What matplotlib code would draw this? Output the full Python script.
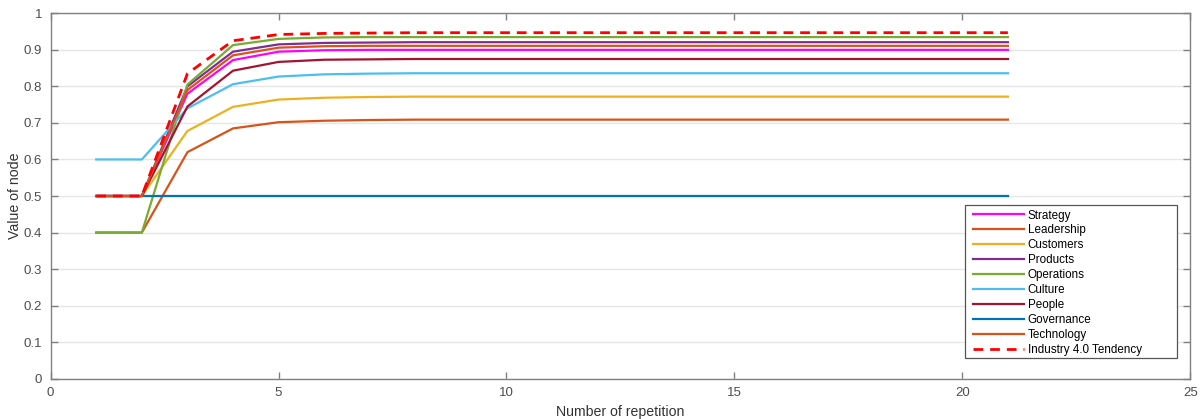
import matplotlib
matplotlib.use("Agg")
import matplotlib.pyplot as plt
from matplotlib.patches import Rectangle

x = list(range(1, 22))

strategy   = [0.5, 0.5, 0.780, 0.872, 0.895, 0.899, 0.900, 0.900, 0.900, 0.900, 0.900, 0.900, 0.900, 0.900, 0.900, 0.900, 0.900, 0.900, 0.900, 0.900, 0.900]
leadership = [0.4, 0.4, 0.620, 0.685, 0.702, 0.706, 0.708, 0.709, 0.709, 0.709, 0.709, 0.709, 0.709, 0.709, 0.709, 0.709, 0.709, 0.709, 0.709, 0.709, 0.709]
customers  = [0.5, 0.5, 0.678, 0.744, 0.764, 0.769, 0.771, 0.772, 0.772, 0.772, 0.772, 0.772, 0.772, 0.772, 0.772, 0.772, 0.772, 0.772, 0.772, 0.772, 0.772]
products   = [0.5, 0.5, 0.800, 0.895, 0.915, 0.919, 0.920, 0.921, 0.921, 0.921, 0.921, 0.921, 0.921, 0.921, 0.921, 0.921, 0.921, 0.921, 0.921, 0.921, 0.921]
operations = [0.4, 0.4, 0.805, 0.913, 0.930, 0.934, 0.935, 0.935, 0.935, 0.935, 0.935, 0.935, 0.935, 0.935, 0.935, 0.935, 0.935, 0.935, 0.935, 0.935, 0.935]
culture    = [0.6, 0.6, 0.740, 0.806, 0.827, 0.833, 0.835, 0.836, 0.836, 0.836, 0.836, 0.836, 0.836, 0.836, 0.836, 0.836, 0.836, 0.836, 0.836, 0.836, 0.836]
people     = [0.5, 0.5, 0.745, 0.843, 0.867, 0.873, 0.874, 0.875, 0.875, 0.875, 0.875, 0.875, 0.875, 0.875, 0.875, 0.875, 0.875, 0.875, 0.875, 0.875, 0.875]
governance = [0.5, 0.5, 0.500, 0.500, 0.500, 0.500, 0.500, 0.500, 0.500, 0.500, 0.500, 0.500, 0.500, 0.500, 0.500, 0.500, 0.500, 0.500, 0.500, 0.500, 0.500]
technology = [0.5, 0.5, 0.790, 0.885, 0.906, 0.910, 0.911, 0.911, 0.911, 0.911, 0.911, 0.911, 0.911, 0.911, 0.911, 0.911, 0.911, 0.911, 0.911, 0.911, 0.911]
industry   = [0.5, 0.5, 0.835, 0.925, 0.942, 0.945, 0.946, 0.947, 0.947, 0.947, 0.947, 0.947, 0.947, 0.947, 0.947, 0.947, 0.947, 0.947, 0.947, 0.947, 0.947]

xticks = [0, 5, 10, 15, 20, 25]
yticks = [0, 0.1, 0.2, 0.3, 0.4, 0.5, 0.6, 0.7, 0.8, 0.9, 1]
yticklabels = ["0", "0.1", "0.2", "0.3", "0.4", "0.5", "0.6", "0.7", "0.8", "0.9", "1"]

series = [
    ("Strategy", strategy, "#FF00FF", "-"),
    ("Leadership", leadership, "#D95319", "-"),
    ("Customers", customers, "#EDB120", "-"),
    ("Products", products, "#7E2F8E", "-"),
    ("Operations", operations, "#77AC30", "-"),
    ("Culture", culture, "#4DBEEE", "-"),
    ("People", people, "#A2142F", "-"),
    ("Governance", governance, "#0072BD", "-"),
    ("Technology", technology, "#D95319", "-"),
    ("Industry 4.0 Tendency", industry, "#FF0000", "--"),
]

plt.rcParams['font.family'] = ['Liberation Sans', 'DejaVu Sans']

fig = plt.figure(figsize=(12.01, 4.19), dpi=100)
ax = fig.add_axes([0.0422, 0.0962, 0.9488, 0.872])

for name, vals, col, ls in series:
    if ls == "--":
        ax.plot(x, vals, color=col, linestyle=(0, (3.5, 2.5)), linewidth=2.0, label=name)
    else:
        ax.plot(x, vals, color=col, linestyle=ls, linewidth=1.6, label=name)

ax.set_xlim(0, 25)
ax.set_ylim(0, 1)
ax.set_xticks(xticks)
ax.set_yticks(yticks)
ax.set_yticklabels(yticklabels)
ax.yaxis.grid(True, color="#E6E6E6", linewidth=1.0)
ax.set_axisbelow(True)
ax.tick_params(direction="in", length=5, width=1, color="#808080", labelcolor="#4D4D4D",
               labelsize=9.5, top=True, right=True)
ax.tick_params(axis="x", pad=6)
ax.tick_params(axis="y", pad=6)
for s in ax.spines.values():
    s.set_color("#808080")
    s.set_linewidth(1.0)

ax.set_xlabel("Number of repetition", fontsize=10.2, color="#333333", labelpad=4)
ax.set_ylabel("Value of node", fontsize=10.2, color="#333333", labelpad=1)

# legend box (MATLAB-style, wider than its contents)
ax.add_patch(Rectangle((0.802, 0.0575), 0.9886 - 0.802, 0.4767 - 0.0575,
                       transform=ax.transAxes, facecolor="white", edgecolor="#555555",
                       linewidth=0.9, zorder=5))
leg = ax.legend(loc="upper left", bbox_to_anchor=(0.8093, 0.463), fontsize=8.4,
                frameon=False, handlelength=4.35, labelspacing=0.253,
                borderpad=0.0, borderaxespad=0.0, handletextpad=0.35)
leg.set_zorder(6)

fig.savefig("out.png", dpi=100)
